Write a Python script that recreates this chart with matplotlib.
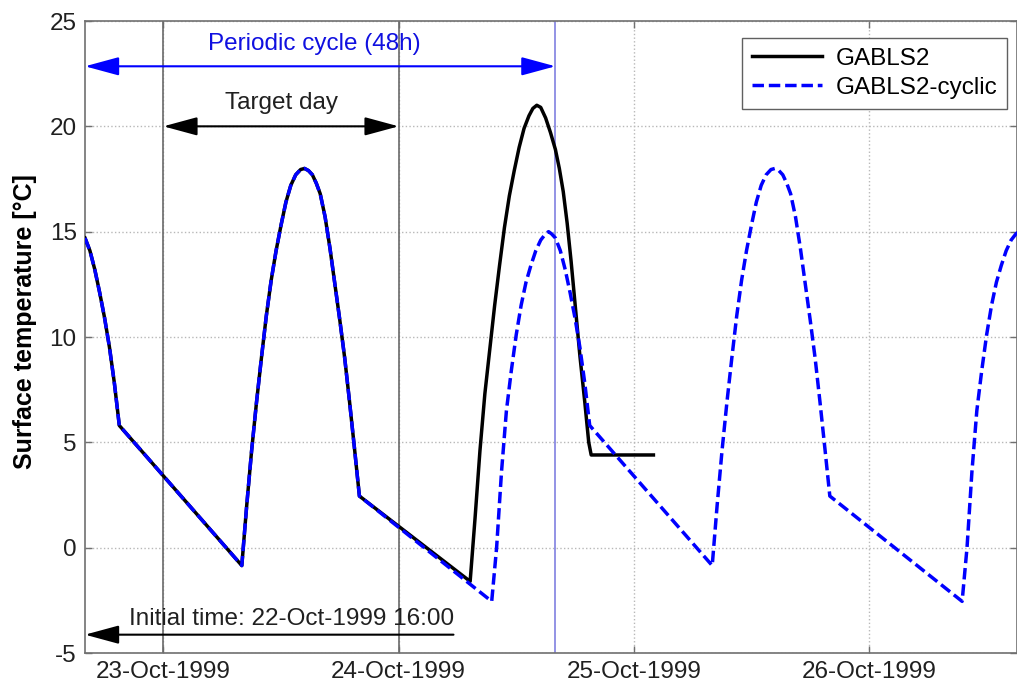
import numpy as np
import matplotlib.pyplot as plt

plt.rcParams['font.family'] = ['Liberation Sans', 'DejaVu Sans']
plt.rcParams['axes.unicode_minus'] = False

# hours since initial time 22-Oct-1999 16:00
# one 48 h cycle of the prescribed surface temperature [degC]
cycle_hours = [0.0, 0.5, 1.0, 1.5, 2.0, 2.5, 3.0, 3.5,
               16.0, 16.5, 17.0, 17.5, 18.0, 18.5, 19.0, 19.5, 20.0, 20.5,
               21.0, 21.5, 22.0, 22.4, 22.8, 23.2, 23.6, 24.0, 24.5, 25.0,
               25.5, 26.0, 26.5, 27.0, 27.5, 28.0,
               41.5, 42.0, 42.5, 43.0, 43.5, 44.0, 44.5, 45.0, 45.5, 46.0,
               46.5, 47.0, 47.3, 47.6, 48.0]
cycle_temp = [14.7, 14.1, 13.2, 12.1, 10.9, 9.5, 7.8, 5.8,
              -0.85, 2.0, 4.6, 6.9, 9.0, 11.0, 12.7, 14.1, 15.3, 16.4,
              17.2, 17.7, 17.95, 18.0, 17.9, 17.7, 17.3, 16.8, 15.7, 14.2,
              12.5, 10.8, 9.0, 6.9, 4.7, 2.45,
              -2.55, 0.0, 3.6, 6.5, 8.4, 10.1, 11.5, 12.6, 13.4, 14.1,
              14.6, 14.9, 15.0, 14.9, 14.7]

# original GABLS2 forcing (same as cycle up to 28 h)
gabls2_hours = [0.0, 0.5, 1.0, 1.5, 2.0, 2.5, 3.0, 3.5,
                16.0, 16.5, 17.0, 17.5, 18.0, 18.5, 19.0, 19.5, 20.0, 20.5,
                21.0, 21.5, 22.0, 22.4, 22.8, 23.2, 23.6, 24.0, 24.5, 25.0,
                25.5, 26.0, 26.5, 27.0, 27.5, 28.0,
                39.3, 39.8, 40.3, 40.8, 41.3, 41.8, 42.3, 42.8, 43.3, 43.8,
                44.3, 44.8, 45.3, 45.7, 46.1, 46.5, 47.0, 47.5, 48.0, 48.4,
                48.8, 49.2, 49.6, 50.0, 50.5, 51.0, 51.4, 51.65, 58.0]
gabls2_temp = [14.7, 14.1, 13.2, 12.1, 10.9, 9.5, 7.8, 5.8,
               -0.85, 2.0, 4.6, 6.9, 9.0, 11.0, 12.7, 14.1, 15.3, 16.4,
               17.2, 17.7, 17.95, 18.0, 17.9, 17.7, 17.3, 16.8, 15.7, 14.2,
               12.5, 10.8, 9.0, 6.9, 4.7, 2.45,
               -1.6, 1.4, 4.6, 7.3, 9.4, 11.5, 13.4, 15.2, 16.7, 17.9,
               19.0, 19.9, 20.5, 20.85, 21.0, 20.9, 20.4, 19.7, 18.9, 18.0,
               16.9, 15.4, 13.6, 11.6, 9.1, 6.9, 5.0, 4.4, 4.4]

period = 48
n_cycles = 2
tick_hours = [8, 32, 56, 80]
tick_labels = ['23-Oct-1999', '24-Oct-1999', '25-Oct-1999', '26-Oct-1999']
target_day = (8, 32)

# cyclic series = the 48 h cycle repeated
cyc_t = np.concatenate([np.array(cycle_hours) + k * period for k in range(n_cycles)])
cyc_T = np.concatenate([cycle_temp] * n_cycles)

fs = 17.5
fig = plt.figure(figsize=(10.17, 6.87), dpi=100)
ax = fig.add_axes([85 / 1017, 34 / 687, 932 / 1017, 632 / 687])

ax.grid(True, linestyle=':', color='#b8b8b8', linewidth=1.0)
ax.set_axisbelow(True)

# target day boundaries and end of periodic cycle
for h in target_day:
    ax.axvline(h, color='#6a6a6a', linewidth=1.2, zorder=1.5)
ax.axvline(period, color='#8080e0', linewidth=1.2, zorder=1.5)

ax.plot(gabls2_hours, gabls2_temp, color='black', linewidth=2.5, label='GABLS2', zorder=3)
ax.plot(cyc_t, cyc_T, color='#0000ff', linewidth=2.5, linestyle=(0, (3.3, 1.4)),
        label='GABLS2-cyclic', zorder=4)

ax.set_xlim(0, 95.1)
ax.set_ylim(-5, 25)
ax.set_yticks(np.arange(-5, 26, 5))
ax.set_xticks(tick_hours)
ax.set_xticklabels(tick_labels)
ax.tick_params(direction='in', length=5, width=1, color='#707070', labelsize=fs,
               labelcolor='#202020', top=True, right=True, pad=6)
for sp in ax.spines.values():
    sp.set_color('#707070')
    sp.set_linewidth(1.2)

ax.set_ylabel('Surface temperature [\u00b0C]', fontsize=18, fontweight='bold')
ax.yaxis.set_label_coords(-0.0515, 0.524)

# annotations
head = '<|-|>,head_length=1.4,head_width=0.38'
ax.annotate('', xy=(0, 22.85), xytext=(period, 22.85),
            arrowprops=dict(arrowstyle=head, color='#0000ff', lw=1.5,
                            shrinkA=0, shrinkB=0, mutation_scale=15))
ax.text(23.4, 23.9, 'Periodic cycle (48h)', color='#1010e0', fontsize=fs,
        ha='center', va='center')

ax.annotate('', xy=(target_day[0], 20.0), xytext=(target_day[1], 20.0),
            arrowprops=dict(arrowstyle=head, color='black', lw=1.5,
                            shrinkA=0, shrinkB=0, mutation_scale=15))
ax.text(20.1, 21.1, 'Target day', color='#202020', fontsize=fs,
        ha='center', va='center')

ax.annotate('', xy=(0, -4.13), xytext=(37.6, -4.13),
            arrowprops=dict(arrowstyle='-|>,head_length=1.4,head_width=0.38',
                            color='black', lw=1.5, shrinkA=0, shrinkB=0,
                            mutation_scale=15))
ax.text(21.1, -3.4, 'Initial time: 22-Oct-1999 16:00', color='#202020', fontsize=fs,
        ha='center', va='center')

leg = ax.legend(loc='upper right', fontsize=fs, fancybox=False, framealpha=1,
                edgecolor='#606060', handlelength=2.9, handletextpad=0.55,
                labelspacing=0.3, borderpad=0.4, borderaxespad=0.3,
                bbox_to_anchor=(0.997, 0.985))
leg.get_frame().set_linewidth(1.0)

fig.savefig('out.png', dpi=100)
